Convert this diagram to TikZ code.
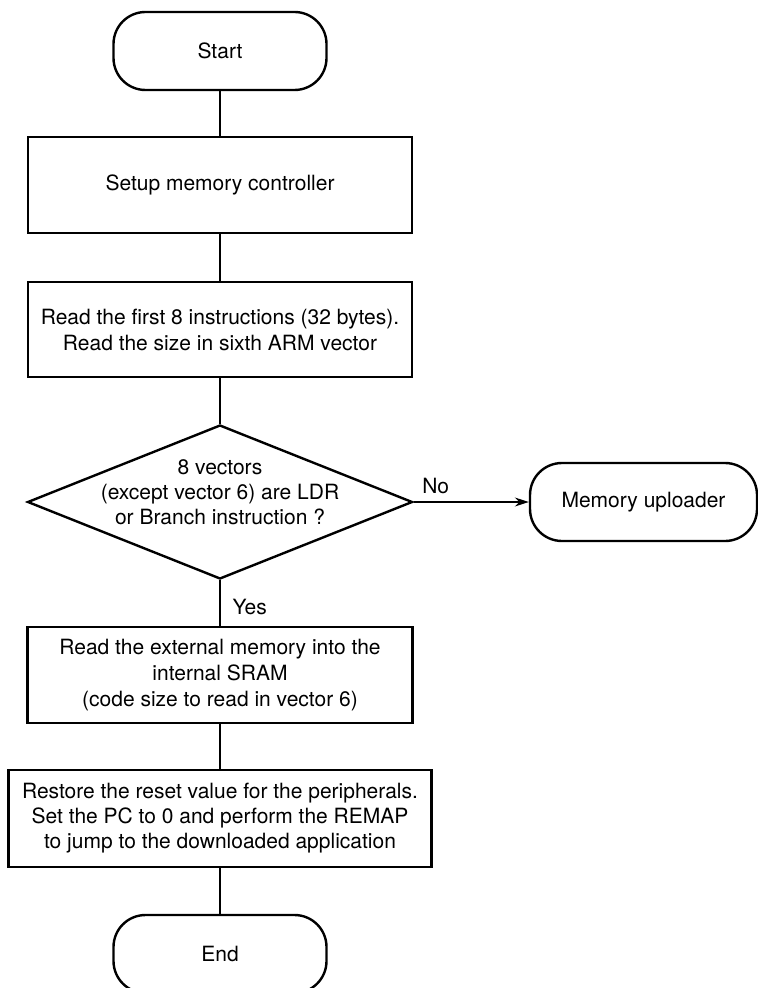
\documentclass[tikz,border=0pt]{standalone}
\usepackage{fontspec}
\setmainfont{TeX Gyre Heros}
\usetikzlibrary{positioning,arrows.meta,shapes.geometric}
\begin{document}
\begin{tikzpicture}[x=0.5pt,y=-0.5pt,
    every node/.style={font=\fontsize{10.5}{13}\selectfont},
    term/.style={draw,line width=1.2pt,rounded corners=16pt,minimum width=106.5pt,minimum height=39pt},
    blk/.style={draw,line width=1.2pt,align=center,minimum width=192pt,minimum height=48pt},
    dec/.style={draw,line width=1.2pt,diamond,inner sep=0pt,minimum width=192.5pt,minimum height=77pt},
    lnk/.style={line width=0.6pt},
    lbl/.style={inner sep=3pt}]
    \useasboundingbox (0,0) rectangle (758,988);
                  \node[term] (start) at (220,51) {Start};
                  \node[blk] (setup) at (220,185) {Setup memory controller};
                  \node[blk,minimum height=47.5pt] (rdvec) at (220,329.5) {Read the first 8 instructions (32 bytes).\\Read the size in sixth ARM vector};
                  \node[dec] (chk) at (220,502) {};
                  \node[align=center,font=\fontsize{10.5}{12.5}\selectfont] (chktxt) at (220,492) {8 vectors\\(except vector 6) are LDR\\or Branch instruction ?};
                  \node[term,minimum width=113.5pt] (upl) at (643.5,502) {Memory uploader};
                  \node[blk,minimum width=192.5pt] (rdext) at (220,675) {Read the external memory into the\\internal SRAM\\(code size to read in vector 6)};
                  \node[blk,minimum width=211.5pt,minimum height=48.5pt,font=\fontsize{10.5}{12.5}\selectfont] (remap) at (220,818.5) {Restore the reset value for the peripherals.\\Set the PC to 0 and perform the REMAP\\to jump to the downloaded application};
                  \node[term] (end) at (220,954) {End};

                  \draw[lnk] (start) -- (setup);
                  \draw[lnk] (setup) -- (rdvec);
                  \draw[lnk] (rdvec) -- (chk.north);
                  \draw[lnk,-{Stealth[length=7pt,width=4.5pt]}] (chk.east) -- node[lbl,pos=0,anchor=south west,xshift=1pt,yshift=1pt] {No} (upl.west);
                  \draw[lnk] (chk.south) -- node[lbl,pos=1,anchor=south west,xshift=3pt,yshift=2pt] {Yes} (rdext.north);
                  \draw[lnk] (rdext) -- (remap);
                  \draw[lnk] (remap) -- (end);
              \end{tikzpicture}
\end{document}
